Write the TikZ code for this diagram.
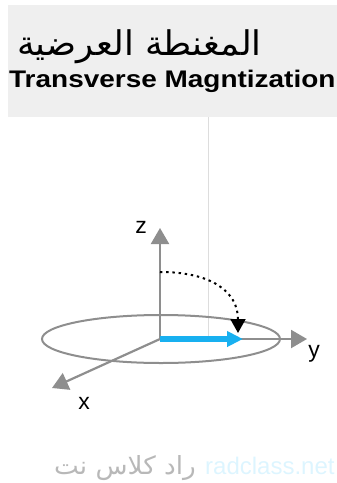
\documentclass[tikz,border=0pt]{standalone}
\usepackage{fontspec}
\usepackage{graphicx}
\setmainfont{Liberation Sans}
\newfontfamily\arabicfont[Script=Arabic]{DejaVu Sans}
\TeXXeTstate=1
\usetikzlibrary{positioning, arrows.meta}
\definecolor{bandgray}{HTML}{EFEFEF}
\definecolor{axisgray}{HTML}{8E8E8E}
\definecolor{spinblue}{HTML}{18B0F0}
\definecolor{guidegray}{HTML}{DDDDDD}
\definecolor{markgray}{HTML}{B8B8B8}
\definecolor{markcyan}{HTML}{DDF5FF}
\tikzset{
    x=1pt, y=-1pt,
    axis/.style={draw=axisgray, line width=2.2pt, -{Triangle[length=16pt, width=18pt]}},
    axislabel/.style={font=\fontsize{23}{23}\selectfont, inner sep=0pt},
    ring/.style={draw=axisgray, line width=2pt},
    spin/.style={draw=spinblue, line width=6pt, -{Triangle[length=16pt, width=15pt]}},
    flip/.style={draw=black, line width=2pt, dash pattern=on 2.4pt off 3.8pt, -{Triangle[length=14pt, width=15pt]}},
}

\begin{document}
\begin{tikzpicture}
    \useasboundingbox (0,0) rectangle (337,483);
    \fill[bandgray] (8,5) rectangle (337,117);

    % titles
    \node[anchor=base east, inner sep=0pt, font=\arabicfont\fontsize{34}{34}\selectfont] (titlear) at (262,55) {\scalebox{1.04}[1]{\beginR المغنطة العرضية\endR}};
    \node[anchor=base west, inner sep=0pt, font=\bfseries\fontsize{24}{24}\selectfont] (titleen) at (9,87) {\scalebox{1.165}[1]{Transverse Magntization}};

    \draw[guidegray, line width=1pt] (208,117) -- (208,337);

    % axes
    \coordinate (o) at (160,339);
    \coordinate (zend) at (160,228);
    \coordinate (yend) at (307,339);
    \coordinate (xend) at (52,388);
    \draw[ring] (161,339) ellipse [x radius=119, y radius=24];
    \draw[axis] (o) -- (zend);
    \draw[axis] (o) -- (yend);
    \draw[axis] (o) -- (xend);
    \node[axislabel] (zlab) at (141,227) {z};
    \node[axislabel] (ylab) at (314,354) {y};
    \node[axislabel] (xlab) at (84,403) {x};

    % magnetization
    \coordinate (mtip) at (243,339);
    \coordinate (dstart) at (160,272);
    \coordinate (dend) at (238,333);
    \draw[spin] (o) -- (mtip);
    \draw[flip] (dstart) .. controls (212,272) and (238,292) .. (dend);

    % watermark
    \node[anchor=base east, inner sep=0pt, text=markgray, font=\arabicfont\fontsize{25}{25}\selectfont] (markar) at (196,474) {\scalebox{1.05}[1]{\beginR راد کلاس نت\endR}};
    \node[anchor=base west, inner sep=0pt, text=markcyan, font=\fontsize{24}{24}\selectfont] (marken) at (205,474) {radclass.net};
\end{tikzpicture}
\end{document}
